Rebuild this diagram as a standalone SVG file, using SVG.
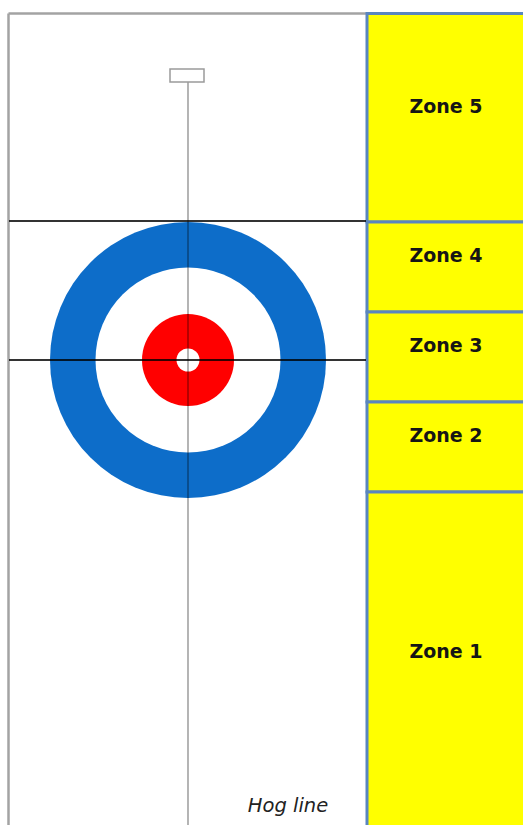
<svg xmlns="http://www.w3.org/2000/svg" width="523" height="825" viewBox="0 0 523 825">
  <style>
    .zone { fill: #FFFF00; stroke: #5A86BF; stroke-width: 3; }
    .zlabel { font-family: "DejaVu Sans", "Liberation Sans", sans-serif; font-weight: bold; font-size: 19px; fill: #151515; text-anchor: middle; }
    .frame { stroke: #A3A3A3; stroke-width: 2.5; fill: none; }
    .tline { stroke: #000; stroke-opacity: 0.8; stroke-width: 2; }
    .cline { stroke: #000; stroke-opacity: 0.45; stroke-width: 1.3; }
  </style>
  <rect x="0" y="0" width="523" height="825" fill="#fff"/>
  <g id="frame">
    <line class="frame" x1="8.5" y1="13.5" x2="367" y2="13.5"/>
    <line class="frame" x1="8.5" y1="13.5" x2="8.5" y2="825"/>
  </g>
  <g id="house">
    <circle cx="188" cy="360" r="138" fill="#0D6DC9"/>
    <circle cx="188" cy="360" r="92.5" fill="#fff"/>
    <circle cx="188" cy="360" r="46" fill="#FF0000"/>
    <circle cx="188" cy="360" r="11.5" fill="#fff"/>
  </g>
  <g id="zone5"><rect class="zone" x="367" y="13.5" width="160" height="208.5"/><text class="zlabel" x="446" y="113">Zone 5</text></g>
  <g id="zone4"><rect class="zone" x="367" y="222" width="160" height="90"/><text class="zlabel" x="446" y="262">Zone 4</text></g>
  <g id="zone3"><rect class="zone" x="367" y="312" width="160" height="90"/><text class="zlabel" x="446" y="352">Zone 3</text></g>
  <g id="zone2"><rect class="zone" x="367" y="402" width="160" height="90"/><text class="zlabel" x="446" y="442">Zone 2</text></g>
  <g id="zone1"><rect class="zone" x="367" y="492" width="160" height="340"/><text class="zlabel" x="446" y="658">Zone 1</text></g>
  <g id="connectors">
    <line class="cline" x1="188" y1="82" x2="188" y2="825"/>
    <line class="tline" x1="9" y1="221" x2="366" y2="221"/>
    <line class="tline" x1="9" y1="360" x2="366" y2="360"/>
  </g>
  <g id="hack">
    <rect x="170" y="69" width="34" height="13" fill="#fff" stroke="#9A9A9A" stroke-width="1.5"/>
  </g>
  <g id="hogline">
    <text x="288" y="812" font-family="DejaVu Sans, Liberation Sans, sans-serif" font-style="italic" font-size="19.5" fill="#222" text-anchor="middle">Hog line</text>
  </g>
</svg>
